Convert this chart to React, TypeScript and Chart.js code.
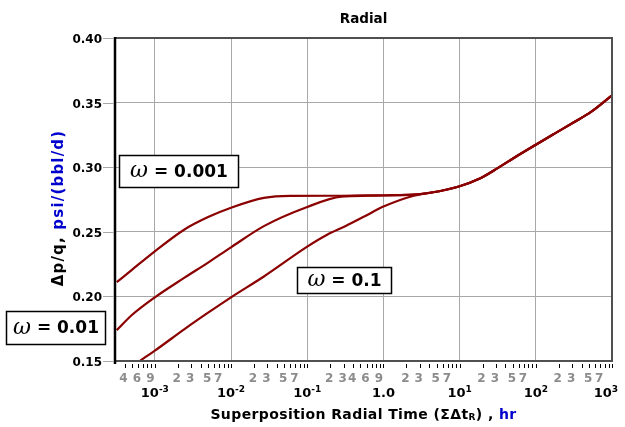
import React, { useEffect, useRef } from "react";
import { Chart, registerables } from "chart.js";

Chart.register(...registerables);

const W = 625;
const H = 427;

// ---- data ----
const topTimes = [3.162e-4, 5.0e-4, 1e-3, 2.45e-3, 5.0e-3, 1e-2, 2.7e-2, 6.0e-2, 0.3, 1, 2.5];
const topValues = [0.211, 0.2206, 0.2349, 0.2518, 0.2614, 0.2686, 0.2762, 0.2778, 0.2779, 0.2783, 0.2787];
const midTimes = [3.162e-4, 5.0e-4, 1e-3, 2.45e-3, 5.0e-3, 1e-2, 2.7e-2, 0.1, 0.28, 0.63, 1.58, 3.0];
const midValues = [0.1739, 0.1856, 0.1993, 0.2145, 0.2262, 0.238, 0.2544, 0.2692, 0.2772, 0.2779, 0.2783, 0.2792];
const lowTimes = [5.6e-4, 1e-3, 2.45e-3, 5.0e-3, 1e-2, 2.7e-2, 0.1, 0.18, 0.32, 0.56, 1, 2.5];
const lowValues = [0.148, 0.158, 0.1747, 0.1874, 0.1993, 0.2154, 0.2385, 0.2475, 0.2545, 0.2618, 0.2695, 0.2779];
const tailTimes = [5.6, 10, 17.8, 31.6, 56, 100, 174, 316, 525, 1000];
const tailValues = [0.2816, 0.2852, 0.2908, 0.2993, 0.3085, 0.3174, 0.3258, 0.3348, 0.3426, 0.3556];

const xMin = 3.162e-4;
const xMax = 1000;
const yMin = 0.15;
const yMax = 0.4;
const yStep = 0.05;

const decadeValues = [1e-3, 1e-2, 1e-1, 1, 10, 100, 1000];
const decadeBases = ["10", "10", "10", "1.0", "10", "10", "10"];
const decadeExps = ["-3", "-2", "-1", "", "1", "2", "3"];
const minorLabelValues = [
  4e-4, 6e-4, 9e-4,
  2e-3, 3e-3, 5e-3, 7e-3,
  2e-2, 3e-2, 5e-2, 7e-2,
  0.2, 0.3, 0.4, 0.6, 0.9,
  2, 3, 5, 7,
  20, 30, 50, 70,
  200, 300, 500, 700,
];
const minorLabelTexts = [
  "4", "6", "9",
  "2", "3", "5", "7",
  "2", "3", "5", "7",
  "2", "3", "4", "6", "9",
  "2", "3", "5", "7",
  "2", "3", "5", "7",
  "2", "3", "5", "7",
];
const yTickValues = [0.15, 0.2, 0.25, 0.3, 0.35, 0.4];
const yTickLabels = ["0.15", "0.20", "0.25", "0.30", "0.35", "0.40"];

const omegaLabels = ["0.001", "0.01", "0.1"];

const toXY = (ts: number[], vs: number[]) => ts.map((t, i) => ({ x: t, y: vs[i] }));

const SANS = "'DejaVu Sans', Verdana, sans-serif";
const CURVE = "#8b0000";
const GRID = "#a8a8a8";

type Run = { text: string; font: string; color: string; dy?: number };

function drawRuns(ctx: CanvasRenderingContext2D, runs: Run[], cx: number, cy: number, spacing: number, align: "center" | "left" | "right" = "center") {
  ctx.save();
  (ctx as any).letterSpacing = spacing + "px";
  let total = 0;
  const widths = runs.map((r) => {
    ctx.font = r.font;
    const w = ctx.measureText(r.text).width;
    total += w;
    return w;
  });
  let x = align === "center" ? cx - total / 2 : align === "left" ? cx : cx - total;
  ctx.textBaseline = "middle";
  ctx.textAlign = "left";
  runs.forEach((r, i) => {
    ctx.font = r.font;
    ctx.fillStyle = r.color;
    ctx.fillText(r.text, x, cy + (r.dy || 0));
    x += widths[i];
  });
  ctx.restore();
  return total;
}

const decorPlugin = {
  id: "decor",
  afterDraw(chart: any) {
    const ctx: CanvasRenderingContext2D = chart.ctx;
    const xs = chart.scales.x;
    const ys = chart.scales.y;
    const { left, right, top, bottom } = chart.chartArea;

    ctx.save();
    // frame
    ctx.strokeStyle = "#505050";
    ctx.lineWidth = 2;
    ctx.beginPath();
    ctx.moveTo(left, top);
    ctx.lineTo(right, top);
    ctx.lineTo(right, bottom);
    ctx.lineTo(left, bottom);
    ctx.stroke();
    ctx.strokeStyle = "#000";
    ctx.lineWidth = 2.5;
    ctx.beginPath();
    ctx.moveTo(left, top - 1);
    ctx.lineTo(left, bottom + 3);
    ctx.stroke();

    // y ticks + labels
    ctx.strokeStyle = GRID;
    ctx.lineWidth = 1;
    yTickValues.forEach((v, i) => {
      const y = Math.round(ys.getPixelForValue(v)) + 0.5;
      ctx.beginPath();
      ctx.moveTo(left - 12, y);
      ctx.lineTo(left - 1, y);
      ctx.stroke();
      drawRuns(ctx, [{ text: yTickLabels[i], font: `bold 12px ${SANS}`, color: "#000" }], left - 13, y + 1, 0, "right");
    });

    // x minor ticks
    ctx.strokeStyle = "#000";
    ctx.lineWidth = 1;
    for (let d = -4; d <= 2; d++) {
      for (let m = 2; m <= 10; m++) {
        const v = m * Math.pow(10, d);
        if (v < xMin || v > xMax) continue;
        const x = Math.round(xs.getPixelForValue(v)) + 0.5;
        ctx.beginPath();
        ctx.moveTo(x, bottom + 3);
        ctx.lineTo(x, bottom + 7);
        ctx.stroke();
      }
    }

    // minor labels (gray)
    minorLabelValues.forEach((v, i) => {
      const x = xs.getPixelForValue(v) - 1;
      drawRuns(ctx, [{ text: minorLabelTexts[i], font: `bold 12px ${SANS}`, color: "#8c8c8c" }], x, bottom + 18, 0);
    });

    // major labels
    decadeValues.forEach((v, i) => {
      const runs: Run[] = [{ text: decadeBases[i], font: `bold 13px ${SANS}`, color: "#000" }];
      if (decadeExps[i]) runs.push({ text: decadeExps[i], font: `bold 9px ${SANS}`, color: "#000", dy: -4 });
      let cx = xs.getPixelForValue(v);
      ctx.save();
      ctx.font = `bold 13px ${SANS}`;
      let w = ctx.measureText(decadeBases[i]).width;
      ctx.font = `bold 9px ${SANS}`;
      w += decadeExps[i] ? ctx.measureText(decadeExps[i]).width : 0;
      ctx.restore();
      if (cx + w / 2 > W - 7) cx = W - 7 - w / 2;
      drawRuns(ctx, runs, cx, bottom + 33, 0);
    });

    // x title
    drawRuns(
      ctx,
      [
        { text: "Superposition Radial Time (ΣΔt", font: `bold 14px ${SANS}`, color: "#000" },
        { text: "R", font: `bold 9px ${SANS}`, color: "#000", dy: 3 },
        { text: ") , ", font: `bold 14px ${SANS}`, color: "#000" },
        { text: "hr", font: `bold 14px ${SANS}`, color: "#0000cc" },
      ],
      (left + right) / 2,
      415,
      0.4
    );

    // y title (rotated)
    ctx.save();
    ctx.translate(59, 208);
    ctx.rotate(-Math.PI / 2);
    drawRuns(
      ctx,
      [
        { text: "Δp/q, ", font: `bold 15px ${SANS}`, color: "#000" },
        { text: "psi/(bbl/d)", font: `bold 15px ${SANS}`, color: "#0000cc" },
      ],
      0,
      0,
      1.2
    );
    ctx.restore();

    // chart title
    drawRuns(ctx, [{ text: "Radial", font: `bold 13.5px ${SANS}`, color: "#000" }], (left + right) / 2, 19, 0);

    // omega boxes
    const boxes = [
      { label: omegaLabels[0], x: 119, y: 155, w: 120, h: 33 },
      { label: omegaLabels[1], x: 6, y: 311, w: 100, h: 34 },
      { label: omegaLabels[2], x: 297, y: 267, w: 95, h: 27 },
    ];
    boxes.forEach((b) => {
      ctx.fillStyle = "#fff";
      ctx.fillRect(b.x, b.y, b.w, b.h);
      ctx.strokeStyle = "#000";
      ctx.lineWidth = 1.5;
      ctx.strokeRect(b.x + 0.5, b.y + 0.5, b.w - 1, b.h - 1);
      drawRuns(
        ctx,
        [
          { text: "ω", font: `italic 22px 'DejaVu Serif', serif`, color: "#000", dy: -1 },
          { text: " = ", font: `bold 17px ${SANS}`, color: "#000" },
          { text: b.label, font: `bold 17px ${SANS}`, color: "#000" },
        ],
        b.x + b.w / 2,
        b.y + b.h / 2 + 1,
        0
      );
    });

    ctx.restore();
  },
};

export default function App() {
  const ref = useRef<HTMLCanvasElement | null>(null);

  useEffect(() => {
    if (!ref.current) return;
    const ds = (ts: number[], vs: number[], label: string) => ({
      label,
      data: toXY(ts.concat(tailTimes), vs.concat(tailValues)),
      borderColor: CURVE,
      borderWidth: 2.2,
      pointRadius: 0,
      fill: false,
      cubicInterpolationMode: "monotone" as const,
    });
    const chart = new Chart(ref.current, {
      type: "line",
      data: {
        datasets: [
          ds(topTimes, topValues, "ω = 0.001"),
          ds(midTimes, midValues, "ω = 0.01"),
          ds(lowTimes, lowValues, "ω = 0.1"),
        ],
      },
      options: {
        responsive: false,
        animation: false,
        devicePixelRatio: 1,
        layout: { padding: { left: 115, right: 13, top: 38, bottom: 66 }, autoPadding: false },
        plugins: { legend: { display: false }, tooltip: { enabled: false }, title: { display: false } },
        scales: {
          x: {
            type: "logarithmic",
            min: xMin,
            max: xMax,
            afterBuildTicks: (s: any) => {
              s.ticks = decadeValues.map((v) => ({ value: v }));
            },
            afterFit: (s: any) => {
              s.height = 0;
            },
            ticks: { display: false },
            grid: { color: GRID, lineWidth: 1, drawTicks: false },
            border: { display: false },
          },
          y: {
            type: "linear",
            min: yMin,
            max: yMax,
            ticks: { display: false, stepSize: yStep },
            afterFit: (s: any) => {
              s.width = 0;
            },
            grid: { color: GRID, lineWidth: 1, drawTicks: false },
            border: { display: false },
          },
        },
      },
      plugins: [decorPlugin],
    });
    return () => chart.destroy();
  }, []);

  return (
    <div style={{ position: "fixed", left: 0, top: 0, width: W, height: H, background: "#fff" }}>
      <canvas ref={ref} width={W} height={H} style={{ width: W, height: H, display: "block" }} />
    </div>
  );
}
